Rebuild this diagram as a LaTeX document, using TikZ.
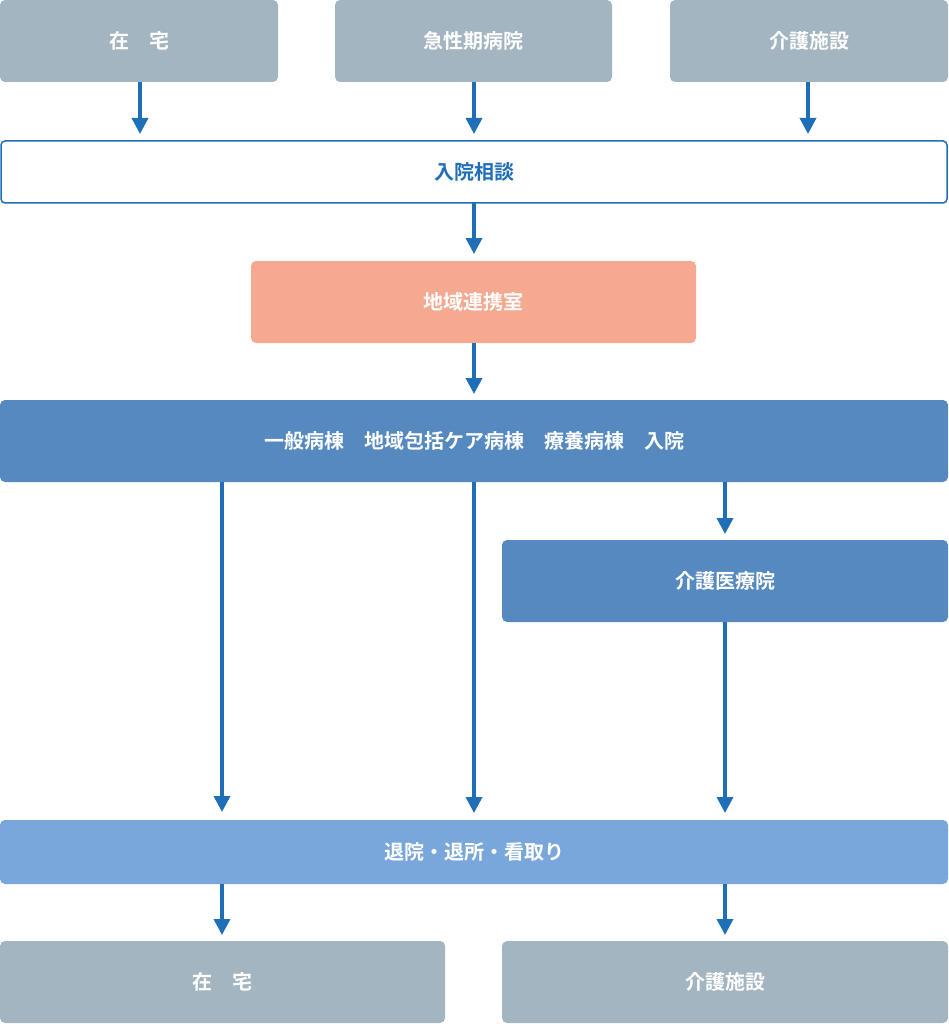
\documentclass[tikz,border=0pt]{standalone}
\usepackage{fontspec}
\newfontfamily\cjk{Noto Sans CJK JP}[BoldFont={Noto Sans CJK JP Bold}]
\usetikzlibrary{arrows.meta}
\definecolor{grayb}{HTML}{A3B5C0}
\definecolor{salmon}{HTML}{F5A990}
\definecolor{mainb}{HTML}{5689C0}
\definecolor{lightb}{HTML}{7AA7DB}
\definecolor{arr}{HTML}{1F6FB8}
\begin{document}
\begin{tikzpicture}[x=1pt,y=-1pt,
 box/.style={rounded corners=5pt,font=\cjk\bfseries\fontsize{20}{24}\selectfont,text=white},
 ar/.style={draw=arr,line width=3.5pt,-{Triangle[length=16pt,width=16pt]}}]
\useasboundingbox (0,0) rectangle (948,1024);
\newcommand{\bx}[7]{\fill[#6,rounded corners=5pt] (#2,#3) rectangle (#4,#5);
 \node[box] (#1) at ({(#2+#4)/2},{(#3+#5)/2}) [minimum width={#4-#2},minimum height={#5-#3}] {#7};}
\bx{t1}{0}{0}{278}{82}{grayb}{在　宅}
\bx{t2}{335}{0}{612}{82}{grayb}{急性期病院}
\bx{t3}{670}{0}{948}{82}{grayb}{介護施設}
\draw[arr,line width=1.5pt,fill=white,rounded corners=4pt] (1,141) rectangle (947,203);
\node[box,text=arr] (c) at (474,172) {入院相談};
\bx{r}{251}{261}{696}{343}{salmon}{地域連携室}
\bx{m}{0}{400}{948}{482}{mainb}{一般病棟　地域包括ケア病棟　療養病棟　入院}
\bx{k}{502}{540}{948}{622}{mainb}{介護医療院}
\bx{d}{0}{820}{948}{884}{lightb}{退院・退所・看取り}
\bx{b1}{0}{941}{445}{1023}{grayb}{在　宅}
\bx{b2}{502}{941}{948}{1023}{grayb}{介護施設}
\coordinate (a1) at (140,82); \coordinate (a1e) at (140,134);
\coordinate (a2) at (474,82); \coordinate (a2e) at (474,134);
\coordinate (a3) at (808,82); \coordinate (a3e) at (808,134);
\draw[ar] (a1) -- (a1e); \draw[ar] (a2) -- (a2e); \draw[ar] (a3) -- (a3e);
\draw[ar] (474,203) -- (474,254);
\draw[ar] (474,343) -- (474,394);
\draw[ar] (222,482) -- (222,812);
\draw[ar] (474,482) -- (474,813);
\draw[ar] (725,482) -- (725,534);
\draw[ar] (725,622) -- (725,813);
\draw[ar] (222,884) -- (222,935);
\draw[ar] (725,884) -- (725,935);
\end{tikzpicture}
\end{document}
